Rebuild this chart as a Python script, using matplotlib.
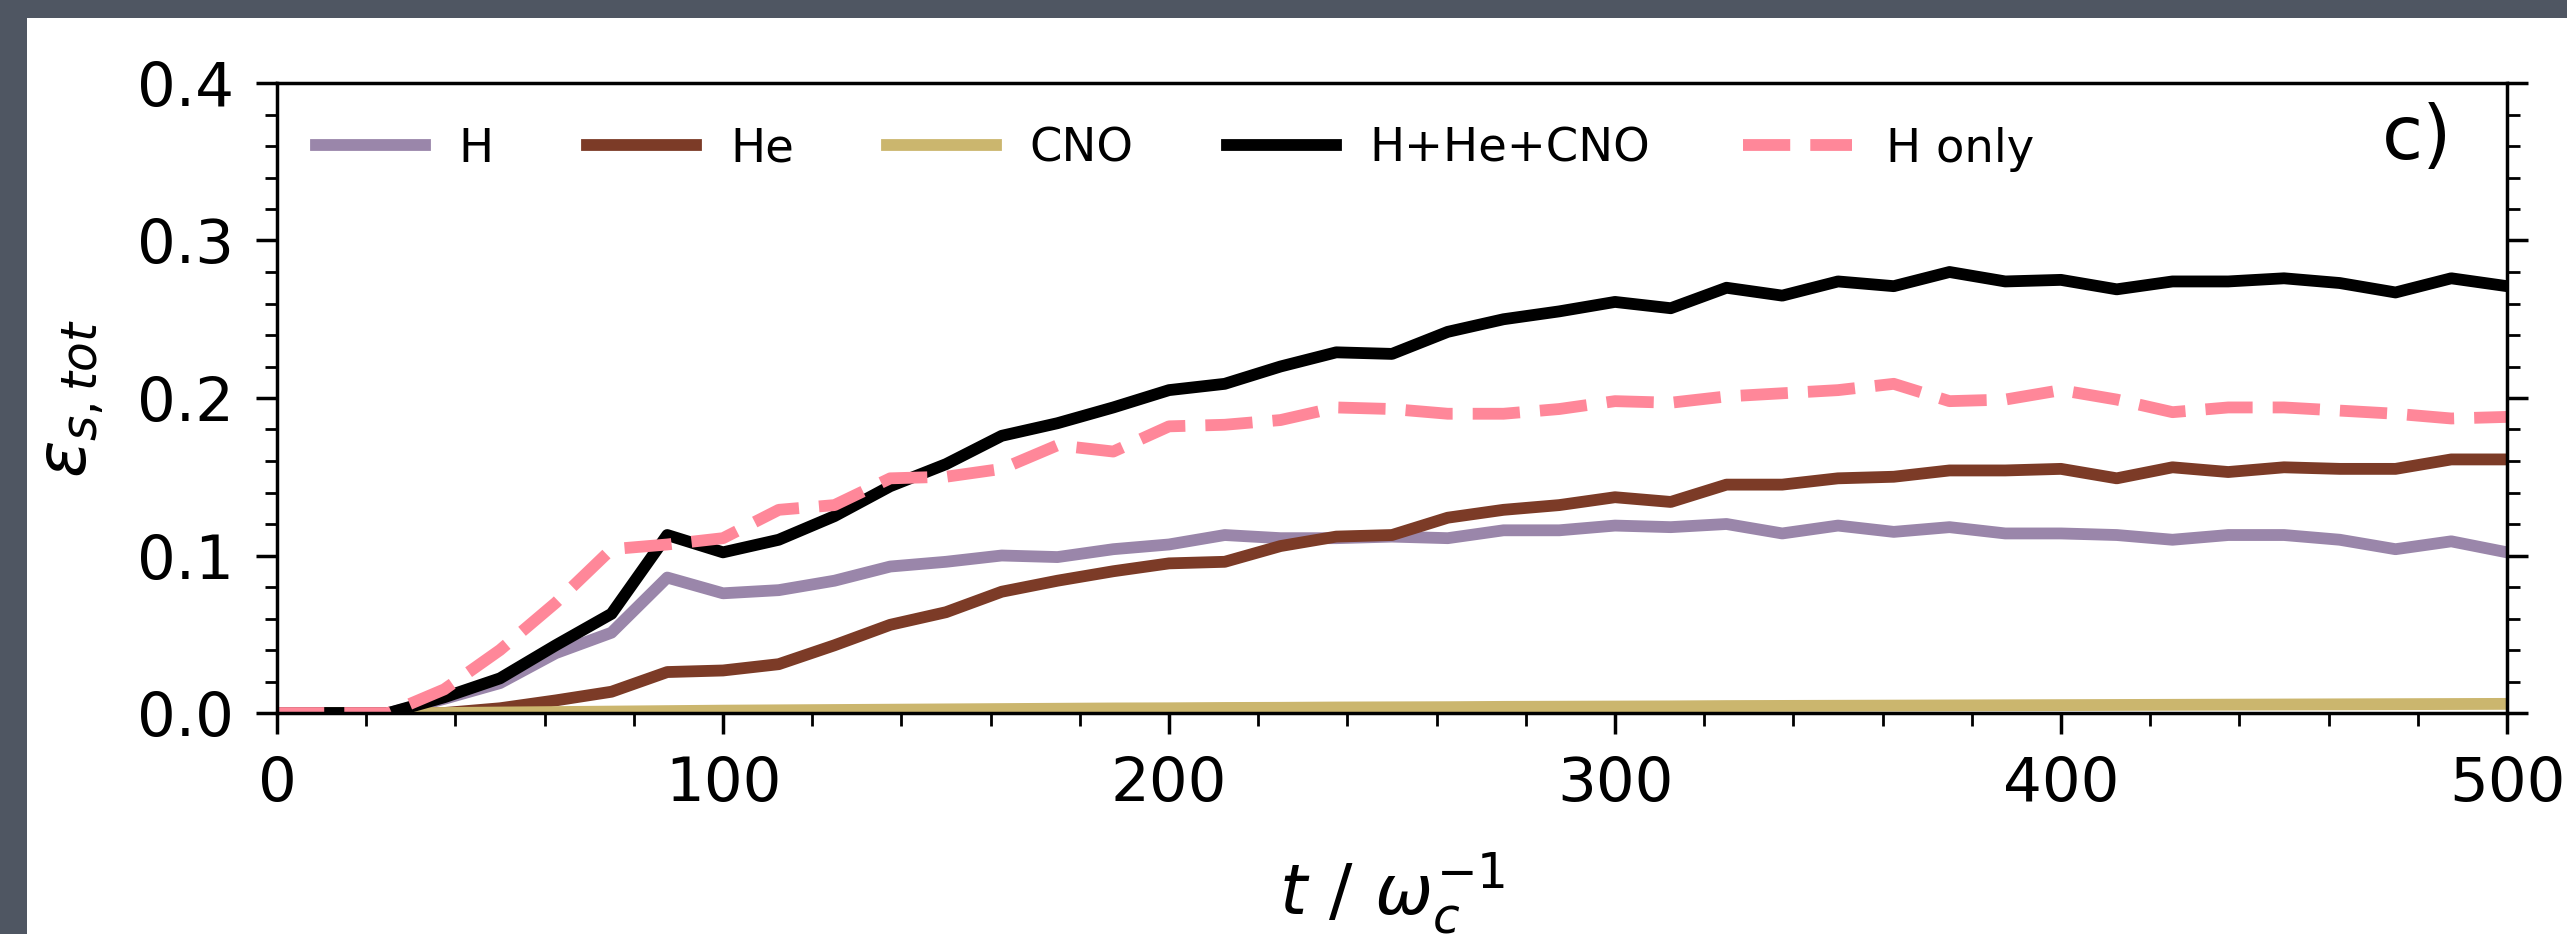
import matplotlib
matplotlib.use("Agg")
import matplotlib.pyplot as plt
from matplotlib.patches import Rectangle
from matplotlib.ticker import MultipleLocator, FormatStrFormatter

# time samples (in units of 1/omega_c)
t_values = [0, 12.5, 25, 37.5, 50, 62.5, 75, 87.5, 100, 112.5, 125, 137.5, 150,
            162.5, 175, 187.5, 200, 212.5, 225, 237.5, 250, 262.5, 275, 287.5,
            300, 312.5, 325, 337.5, 350, 362.5, 375, 387.5, 400, 412.5, 425,
            437.5, 450, 462.5, 475, 487.5, 500]

eps_H = [0, 0, 0, 0.009, 0.019, 0.038, 0.051, 0.086, 0.076, 0.078, 0.084, 0.093,
         0.096, 0.100, 0.099, 0.104, 0.107, 0.113, 0.111, 0.111, 0.112, 0.111,
         0.116, 0.116, 0.119, 0.118, 0.120, 0.114, 0.119, 0.115, 0.118, 0.114,
         0.114, 0.113, 0.110, 0.113, 0.113, 0.110, 0.104, 0.109, 0.102]

eps_He = [0, 0, 0, 0, 0.003, 0.008, 0.0135, 0.026, 0.027, 0.031, 0.043, 0.056,
          0.064, 0.077, 0.084, 0.090, 0.095, 0.096, 0.106, 0.112, 0.113, 0.124,
          0.129, 0.132, 0.137, 0.134, 0.145, 0.145, 0.149, 0.150, 0.154, 0.154,
          0.155, 0.149, 0.156, 0.153, 0.156, 0.155, 0.155, 0.161, 0.161]

eps_CNO = [0, 0, 0, 0, 0.0003, 0.0006, 0.0009, 0.0012, 0.0015, 0.0017, 0.0019,
           0.0021, 0.0023, 0.0025, 0.0027, 0.0029, 0.0030, 0.0032, 0.0033,
           0.0035, 0.0036, 0.0037, 0.0039, 0.0040, 0.0041, 0.0042, 0.0044,
           0.0045, 0.0046, 0.0047, 0.0048, 0.0049, 0.0050, 0.0051, 0.0052,
           0.0053, 0.0054, 0.0055, 0.0056, 0.0057, 0.0058]

eps_total = [0, 0, 0, 0.010, 0.022, 0.043, 0.063, 0.113, 0.102, 0.110, 0.125,
             0.144, 0.158, 0.176, 0.184, 0.194, 0.205, 0.209, 0.220, 0.229,
             0.228, 0.242, 0.250, 0.255, 0.261, 0.257, 0.270, 0.265, 0.274,
             0.271, 0.280, 0.274, 0.275, 0.269, 0.274, 0.274, 0.276, 0.273,
             0.267, 0.276, 0.271]

eps_H_only = [0, 0, 0, 0.015, 0.040, 0.070, 0.104, 0.107, 0.111, 0.129, 0.132,
              0.149, 0.150, 0.155, 0.170, 0.166, 0.182, 0.183, 0.186, 0.194,
              0.193, 0.190, 0.190, 0.193, 0.198, 0.197, 0.201, 0.203, 0.205,
              0.209, 0.198, 0.199, 0.205, 0.199, 0.191, 0.194, 0.194, 0.192,
              0.190, 0.187, 0.188]

series_labels = ["H", "He", "CNO", "H+He+CNO", "H only"]

plt.rcParams["font.family"] = ["DejaVu Sans"]
plt.rcParams["mathtext.fontset"] = "dejavusans"

fig = plt.figure(figsize=(25.67, 9.34), dpi=100)
fig.patch.set_facecolor("#4f5662")
# white sheet behind the plot
fig.add_artist(Rectangle((27 / 2567, 0), 1 - 27 / 2567, 1 - 18 / 934,
                         transform=fig.transFigure, facecolor="white",
                         edgecolor="none", zorder=-1))

ax = fig.add_axes([277 / 2567, 1 - 713 / 934, 2230 / 2567, 630 / 934])
ax.set_facecolor("white")

lw = 8.5
ax.plot(t_values, eps_H, color="#9a86aa", lw=lw, label=series_labels[0])
ax.plot(t_values, eps_He, color="#7c3b27", lw=lw, label=series_labels[1])
ax.plot(t_values, eps_CNO, color="#cbb66e", lw=lw, label=series_labels[2])
ax.plot(t_values, eps_total, color="black", lw=lw, label=series_labels[3])
ax.plot(t_values, eps_H_only, color="#ff8799", lw=lw, dashes=(4.0, 1.7),
        label=series_labels[4])

ax.set_xlim(0, 500)
ax.set_ylim(0, 0.4)
ax.xaxis.set_major_locator(MultipleLocator(100))
ax.xaxis.set_minor_locator(MultipleLocator(20))
ax.yaxis.set_major_locator(MultipleLocator(0.1))
ax.yaxis.set_minor_locator(MultipleLocator(0.02))
ax.yaxis.set_major_formatter(FormatStrFormatter("%.1f"))

for side in ax.spines.values():
    side.set_linewidth(2.5)
ax.tick_params(axis="both", which="both", direction="out", top=False,
               right=True, labelright=False)
ax.tick_params(axis="both", which="major", length=15, width=2.5,
               labelsize=44)
ax.tick_params(axis="both", which="minor", length=9, width=2)
ax.tick_params(axis="x", which="major", pad=15)
ax.tick_params(axis="y", which="major", pad=16)

ax.set_xlabel(r"$t\ /\ \omega_c^{-1}$", fontsize=50, labelpad=27)
ax.set_ylabel(r"$\varepsilon_{s,tot}$", fontsize=50, labelpad=22)

ax.text(0.9753, 0.97, "c)", transform=ax.transAxes, ha="right", va="top",
        fontsize=54)

ax.legend(loc="center left", bbox_to_anchor=(0.0175, 0.895), ncol=5,
          frameon=False, fontsize=33.5, handlelength=2.34, handletextpad=0.73,
          columnspacing=2.0, borderpad=0, borderaxespad=0)

fig.savefig("out.png", dpi=100, facecolor=fig.get_facecolor())
